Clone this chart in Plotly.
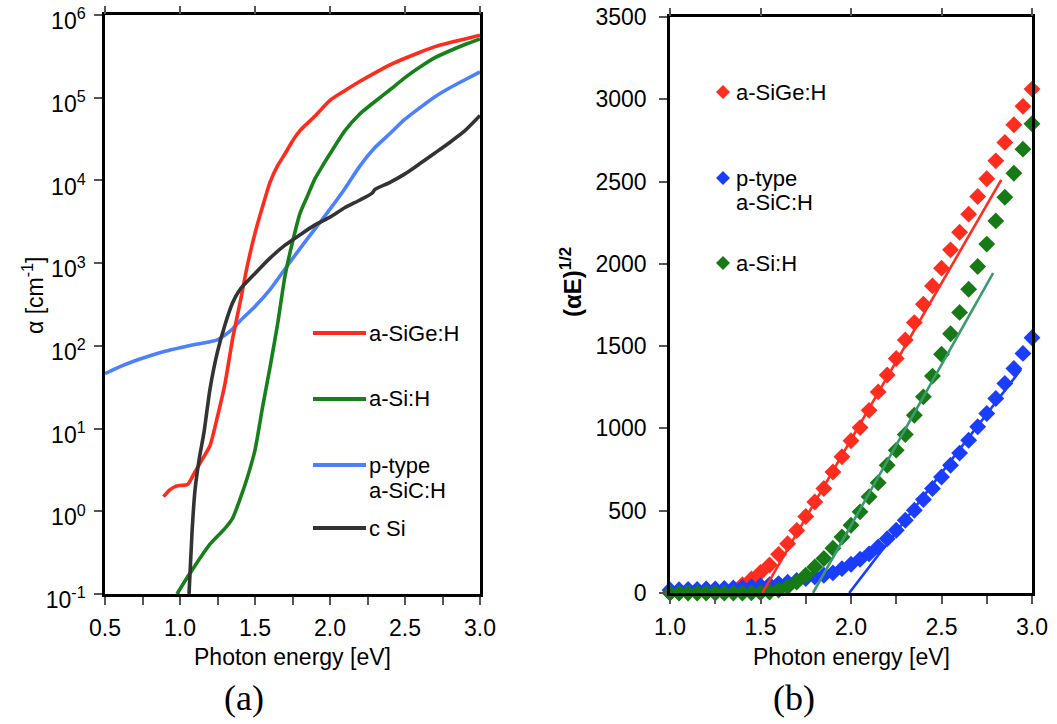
import plotly.graph_objects as go

# ---------------- Panel (a): absorption coefficient ----------------
E_sige = [0.89, 0.93, 0.97, 1.0, 1.05, 1.1, 1.15, 1.2, 1.25, 1.3, 1.35, 1.4, 1.45, 1.5, 1.55, 1.6, 1.65,
          1.7, 1.75, 1.8, 1.9, 2.0, 2.1, 2.2, 2.3, 2.4, 2.5, 2.6, 2.7, 2.8, 2.9, 3.0]
a_sige = [1.5, 1.8, 2.0, 2.05, 2.1, 3.0, 4.3, 6.2, 14, 35, 120, 330, 950, 2300, 4800, 9500, 15000,
          21000, 30000, 40000, 60000, 93000, 122000, 158000, 200000, 250000, 300000, 355000, 415000,
          465000, 515000, 570000]

E_asi = [0.98, 1.05, 1.1, 1.15, 1.2, 1.25, 1.3, 1.35, 1.4, 1.45, 1.5, 1.55, 1.6, 1.65, 1.7, 1.75, 1.8,
         1.85, 1.9, 1.95, 2.0, 2.1, 2.2, 2.3, 2.4, 2.5, 2.6, 2.7, 2.8, 2.9, 3.0]
a_asi = [0.1, 0.16, 0.22, 0.3, 0.4, 0.5, 0.62, 0.82, 1.4, 2.6, 5.5, 18, 55, 180, 700, 1800, 4000,
         6500, 10500, 15000, 21000, 40000, 64000, 90000, 125000, 175000, 235000, 305000, 370000,
         440000, 515000]

E_sic = [0.5, 0.6, 0.7, 0.8, 0.9, 1.0, 1.1, 1.2, 1.25, 1.3, 1.35, 1.4, 1.5, 1.6, 1.7, 1.8, 1.9, 2.0,
         2.1, 2.2, 2.3, 2.4, 2.5, 2.6, 2.7, 2.8, 2.9, 3.0]
a_sic = [46, 56, 66, 76, 86, 95, 104, 112, 118, 135, 160, 200, 300, 480, 850, 1500, 2600, 4500,
         8000, 15000, 25000, 37000, 55000, 76000, 103000, 132000, 165000, 205000]

E_csi = [1.06, 1.08, 1.1, 1.13, 1.16, 1.2, 1.25, 1.3, 1.35, 1.4, 1.5, 1.6, 1.7, 1.8, 1.9, 2.0, 2.1,
         2.2, 2.28, 2.3, 2.4, 2.5, 2.6, 2.7, 2.8, 2.9, 3.0]
a_csi = [0.1, 0.55, 1.8, 4.5, 9, 30, 85, 180, 330, 480, 750, 1150, 1650, 2200, 2900, 3600, 4700,
         5800, 7000, 7800, 9500, 12000, 16000, 21500, 29000, 40000, 61000]

# ---------------- Panel (b): Tauc plot ----------------
E_tauc = [1.0, 1.05, 1.1, 1.15, 1.2, 1.25, 1.3, 1.35, 1.4, 1.45, 1.5, 1.55, 1.6, 1.65, 1.7, 1.75, 1.8,
          1.85, 1.9, 1.95, 2.0, 2.05, 2.1, 2.15, 2.2, 2.25, 2.3, 2.35, 2.4, 2.45, 2.5, 2.55, 2.6,
          2.65, 2.7, 2.75, 2.8, 2.85, 2.9, 2.95, 3.0]
t_sige = [2, 2, 3, 3, 4, 5, 10, 25, 50, 85, 125, 170, 235, 300, 380, 465, 553, 635, 735, 828, 925,
          1005, 1110, 1222, 1325, 1425, 1537, 1643, 1755, 1866, 1974, 2085, 2192, 2302, 2409, 2517,
          2626, 2738, 2845, 2957, 3062]
t_sic = [18, 20, 21, 22, 24, 25, 27, 30, 33, 38, 44, 50, 57, 66, 76, 88, 98, 108, 122, 148, 175,
         205, 238, 280, 330, 381, 442, 503, 568, 635, 705, 776, 850, 928, 1010, 1091, 1182, 1273,
         1364, 1456, 1551]
t_asi = [0, 0, 0, 0, 0, 0, 0, 0, 0, 1, 2, 6, 18, 38, 67, 108, 158, 210, 272, 340, 412, 493, 585,
         670, 776, 868, 963, 1080, 1192, 1318, 1451, 1575, 1705, 1846, 1984, 2120, 2261, 2405, 2551,
         2697, 2851]

fit_sige_x = [1.51, 2.83]
fit_sige_y = [0, 2510]
fit_asi_x = [1.79, 2.785]
fit_asi_y = [0, 1944]
fit_sic_x = [1.99, 2.94]
fit_sic_y = [0, 1360]

log_tickvals = [0.1, 1, 10, 100, 1000, 1e4, 1e5, 1e6]
log_ticktext = ["10<sup>-1</sup>", "10<sup>0</sup>", "10<sup>1</sup>", "10<sup>2</sup>",
                "10<sup>3</sup>", "10<sup>4</sup>", "10<sup>5</sup>", "10<sup>6</sup>"]

legend_a = ["a-SiGe:H", "a-Si:H", "p-type", "a-SiC:H", "c Si"]
legend_b = ["a-SiGe:H", "p-type", "a-SiC:H", "a-Si:H"]

W, H = 1057, 724
FONT = "Liberation Sans, Arial, sans-serif"


def px(x):
    return x / W


def py(y):
    return 1 - y / H


C_RED_A, C_GRN_A, C_BLU_A, C_BLK_A = "#ff2b1c", "#17801a", "#4d80ff", "#333333"
C_RED_B, C_BLU_B, C_GRN_B, C_GLINE = "#ff2d1f", "#1a3dff", "#177a17", "#3a9a6e"

fig = go.Figure()

# panel a curves
for xs, ys, c in [(E_sic, a_sic, C_BLU_A), (E_sige, a_sige, C_RED_A),
                  (E_asi, a_asi, C_GRN_A), (E_csi, a_csi, C_BLK_A)]:
    fig.add_trace(go.Scatter(x=xs, y=ys, mode="lines", line=dict(color=c, width=3.6, shape="spline", smoothing=0.6),
                             xaxis="x", yaxis="y", showlegend=False, hoverinfo="skip"))

# panel b markers
for ys, c in [(t_sige, C_RED_B), (t_sic, C_BLU_B), (t_asi, C_GRN_B)]:
    fig.add_trace(go.Scatter(x=E_tauc, y=ys, mode="markers",
                             marker=dict(symbol="diamond", size=13, color=c, line=dict(width=0)),
                             cliponaxis=False, xaxis="x2", yaxis="y2", showlegend=False, hoverinfo="skip"))
# fit lines
for xs, ys, c in [(fit_sige_x, fit_sige_y, C_RED_B), (fit_asi_x, fit_asi_y, C_GLINE),
                  (fit_sic_x, fit_sic_y, C_BLU_B)]:
    fig.add_trace(go.Scatter(x=xs, y=ys, mode="lines", line=dict(color=c, width=2.6),
                             xaxis="x2", yaxis="y2", showlegend=False, hoverinfo="skip"))

# invisible traces for top axes
fig.add_trace(go.Scatter(x=[None], y=[None], xaxis="x3", yaxis="y", showlegend=False))
fig.add_trace(go.Scatter(x=[None], y=[None], xaxis="x4", yaxis="y2", showlegend=False))

tickfont = dict(family=FONT, size=23, color="black")
common_axis = dict(showgrid=False, zeroline=False, showline=True, linecolor="black", linewidth=2.5,
                   mirror=True, ticks="outside", ticklen=8, tickwidth=1.5, tickcolor="#555555",
                   tickfont=tickfont, automargin=False, ticklabeloverflow="allow")

xa_dom = [px(105), px(480)]
xb_dom = [px(670), px(1032)]
ya_dom = [py(594), py(15)]
yb_dom = [py(593), py(17)]

fig.update_layout(
    template="none",
    width=W, height=H, margin=dict(l=0, r=0, t=0, b=0, pad=0, autoexpand=False),
    paper_bgcolor="white", plot_bgcolor="white",
    xaxis=dict(domain=xa_dom, anchor="y", range=[0.5, 3.0], tick0=0.5, dtick=0.5, tickformat=".1f",
               minor=dict(dtick=0.25, tick0=0.5, ticks="outside", ticklen=8, tickwidth=1.5, tickcolor="#555555"),
               ticklabelstandoff=4, **common_axis),
    yaxis=dict(domain=ya_dom, anchor="x", type="log", range=[-1.0005, 6.0005], tickvals=log_tickvals,
               ticktext=log_ticktext, ticklabelstandoff=4, ticklabelshift=6, **common_axis),
    xaxis3=dict(overlaying="x", side="top", anchor="y", range=[0.5, 3.0], tick0=0.5, dtick=0.5,
                ticks="outside", ticklen=8, tickwidth=1.5, tickcolor="#555555", showticklabels=False,
                showline=False, showgrid=False, zeroline=False, automargin=False),
    xaxis2=dict(domain=xb_dom, anchor="y2", range=[1.0, 3.0], tick0=1.0, dtick=0.5, tickformat=".1f",
                minor=dict(dtick=0.25, tick0=1.0, ticks="outside", ticklen=8, tickwidth=1.5, tickcolor="#555555"),
                ticklabelstandoff=4, **common_axis),
    yaxis2=dict(domain=yb_dom, anchor="x2", range=[0, 3500], dtick=500, ticklabelstandoff=8, **common_axis),
    xaxis4=dict(overlaying="x2", side="top", anchor="y2", range=[1.0, 3.0], tick0=1.0, dtick=0.5,
                ticks="outside", ticklen=8, tickwidth=1.5, tickcolor="#555555", showticklabels=False,
                showline=False, showgrid=False, zeroline=False, automargin=False),
)

ann = []
tf = dict(family=FONT, size=23, color="black")
ann.append(dict(text="Photon energy [eV]", x=px(292), y=py(657), xref="paper", yref="paper",
                showarrow=False, font=tf, xanchor="center", yanchor="middle"))
ann.append(dict(text="Photon energy [eV]", x=px(851), y=py(657), xref="paper", yref="paper",
                showarrow=False, font=tf, xanchor="center", yanchor="middle"))
ann.append(dict(text="α [cm<sup>-1</sup>]", x=px(33), y=py(296), xref="paper", yref="paper",
                showarrow=False, font=tf, textangle=-90, xanchor="center", yanchor="middle"))
ann.append(dict(text="<b>(αE)<sup>1/2</sup></b>", x=px(571), y=py(282), xref="paper", yref="paper",
                showarrow=False, font=dict(family=FONT, size=24, color="black"), textangle=-90,
                xanchor="center", yanchor="middle"))
serif = dict(family="Liberation Serif, DejaVu Serif, serif", size=36, color="black")
ann.append(dict(text="(a)", x=px(244), y=py(698), xref="paper", yref="paper", showarrow=False,
                font=serif, xanchor="center", yanchor="middle"))
ann.append(dict(text="(b)", x=px(794), y=py(698), xref="paper", yref="paper", showarrow=False,
                font=serif, xanchor="center", yanchor="middle"))

lf = dict(family=FONT, size=22, color="black")
# legend panel a
leg_a_rows = [(legend_a[0], 333, C_RED_A, True), (legend_a[1], 399, C_GRN_A, True),
              (legend_a[2], 465, C_BLU_A, True), (legend_a[3], 490, None, False),
              (legend_a[4], 528, C_BLK_A, True)]
shapes = []
for txt, yy, col, has_line in leg_a_rows:
    ann.append(dict(text=txt, x=px(367), y=py(yy), xref="paper", yref="paper", showarrow=False,
                    font=lf, xanchor="left", yanchor="middle"))
    if has_line:
        shapes.append(dict(type="line", xref="paper", yref="paper", x0=px(313), x1=px(366),
                           y0=py(yy), y1=py(yy), line=dict(color=col, width=4)))

# legend panel b
leg_b_rows = [(legend_b[0], 92, C_RED_B), (legend_b[1], 178, C_BLU_B), (legend_b[2], 203, None),
              (legend_b[3], 263, C_GRN_B)]
for txt, yy, col in leg_b_rows:
    ann.append(dict(text=txt, x=px(734), y=py(yy), xref="paper", yref="paper", showarrow=False,
                    font=lf, xanchor="left", yanchor="middle"))
    if col:
        shapes.append(dict(type="path", xref="paper", yref="paper", xsizemode="pixel", ysizemode="pixel",
                           xanchor=px(723), yanchor=py(yy), path="M0,7 L7,0 L0,-7 L-7,0 Z",
                           fillcolor=col, line=dict(width=0)))

fig.update_layout(annotations=ann, shapes=shapes)

fig.write_html("out.html")
